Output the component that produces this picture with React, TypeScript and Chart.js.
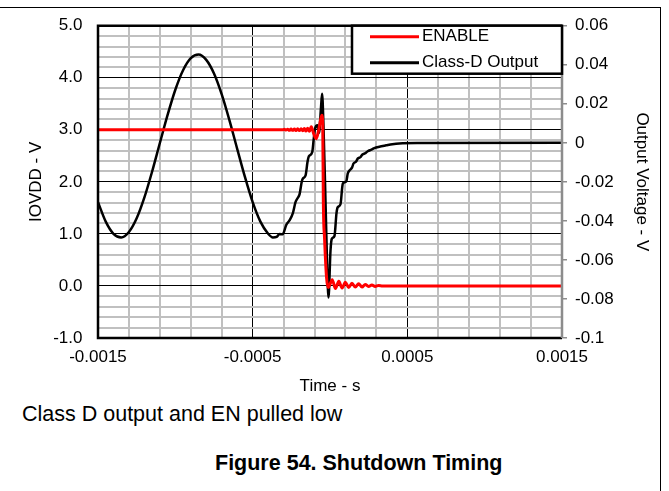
import React, { useEffect, useRef } from 'react';
import { Chart, registerables } from 'chart.js';

Chart.register(...registerables);

const FONT = "'Liberation Sans', Arial, Helvetica, sans-serif";

const seriesNames = ['ENABLE', 'Class-D Output'];
const seriesColors = ['#ff0000', '#000000'];

// ENABLE (left axis, V)
const enableTime = [
  -0.0015, -0.000306, -0.000295, -0.000284, -0.000274, -0.000263, -0.000252, -0.000241,
  -0.00023, -0.00022, -0.000209, -0.000198, -0.000187, -0.000176, -0.000166, -0.000155,
  -0.000144, -0.000133, -0.000121, -0.000105, -0.000089, -0.000073, -0.000053, -0.000047,
  -0.000043, -0.000035, -0.000022, -0.000012, -0.000002, 0.0000142, 0.0000355, 0.0000568,
  0.000078, 0.0000994, 0.000121, 0.000142, 0.000164, 0.000185, 0.000207, 0.000228,
  0.000249, 0.000271, 0.000292, 0.000314, 0.000339, 0.0015,
];
const enableValue = [
  3.0, 3.0, 3.01, 2.995, 3.01, 2.99, 3.015, 2.99,
  3.015, 2.985, 3.02, 2.985, 3.02, 2.98, 3.025, 2.975,
  3.03, 2.97, 3.06, 2.92, 2.83, 3.0, 3.28, 3.1,
  1.6, 0.9, 0.15, -0.03, 0.02, 0.12, -0.05, 0.09,
  -0.04, 0.07, -0.03, 0.05, -0.02, 0.04, -0.02, 0.03,
  -0.01, 0.02, -0.01, 0.01, 0, 0,
];

// Class-D Output (right axis, V)
const outputTime = [
  -0.0015, -0.00145, -0.0014, -0.00135, -0.0013, -0.00125, -0.0012, -0.00115,
  -0.0011, -0.00105, -0.001, -0.00095, -0.0009, -0.00085, -0.0008, -0.00075,
  -0.0007, -0.00065, -0.0006, -0.00055, -0.0005, -0.00045, -0.0004, -0.000369,
  -0.000345, -0.000326, -0.000306, -0.000283, -0.000261, -0.00024, -0.000223, -0.00021,
  -0.000197, -0.000182, -0.000174, -0.000158, -0.000145, -0.000137, -0.000115, -0.000105,
  -0.000097, -0.000081, -0.000071, -0.000058, -0.000051, -0.000042, -0.000029, -0.000019,
  -0.0000097, 0.0000032, 0.0000116, 0.000029, 0.000042, 0.00005, 0.000068, 0.000079,
  0.000083, 0.000105, 0.000115, 0.000126, 0.000143, 0.000152, 0.000169, 0.000179,
  0.000197, 0.00021, 0.000229, 0.000244, 0.000268, 0.000287, 0.000319, 0.000363,
  0.000403, 0.000448, 0.000577, 0.0015,
];
const outputValue = [
  -0.0304, -0.0404, -0.0466, -0.0485, -0.0457, -0.0387, -0.028, -0.0147,
  -0.0001, 0.0143, 0.0272, 0.0372, 0.0434, 0.0453, 0.0425, 0.0355,
  0.0248, 0.0115, -0.0031, -0.0175, -0.0304, -0.0404, -0.0466, -0.0485,
  -0.0482, -0.0467, -0.0469, -0.0421, -0.0396, -0.036, -0.0304, -0.0284,
  -0.0264, -0.0197, -0.0182, -0.0167, -0.0096, -0.007, -0.0048, 0.0021,
  0.0072, 0.009, 0.0051, 0.0184, 0.0251, 0.0082, -0.0299, -0.0614,
  -0.0792, -0.0553, -0.0492, -0.0477, -0.036, -0.033, -0.0314, -0.0228,
  -0.0208, -0.0198, -0.0157, -0.0142, -0.0126, -0.0106, -0.0096, -0.0081,
  -0.0073, -0.006, -0.0053, -0.0043, -0.0035, -0.0027, -0.002, -0.0013,
  -0.0007, -0.0003, -0.0001, 0,
];

// Axes
const xGridValues = [
  -0.0015, -0.0013, -0.0011, -0.0009, -0.0007, -0.0005, -0.0003, -0.0001,
  0.0001, 0.0003, 0.0005, 0.0007, 0.0009, 0.0011, 0.0013, 0.0015,
];
const xLabelValues = [-0.0015, -0.0005, 0.0005, 0.0015];
const xLabels = ['-0.0015', '-0.0005', '0.0005', '0.0015'];
const yLabelValues = [-1, 0, 1, 2, 3, 4, 5];
const yLabels = ['-1.0', '0.0', '1.0', '2.0', '3.0', '4.0', '5.0'];
const y2TickValues = [-0.1, -0.08, -0.06, -0.04, -0.02, 0, 0.02, 0.04, 0.06];
const y2Labels = ['-0.1', '-0.08', '-0.06', '-0.04', '-0.02', '0', '0.02', '0.04', '0.06'];

const GRID_GRAY = '#c0c0c0';

const findIndex = (arr: number[], v: number) => arr.findIndex((a) => Math.abs(a - v) < 1e-9);

const frameLegendPlugin = {
  id: 'frameLegend',
  afterDatasetsDraw(chart: any) {
    const { ctx, chartArea: a } = chart;
    ctx.save();
    ctx.lineWidth = 2.5;
    ctx.strokeStyle = '#000';
    ctx.beginPath();
    ctx.moveTo(a.right, a.top);
    ctx.lineTo(a.left, a.top);
    ctx.lineTo(a.left, a.bottom);
    ctx.lineTo(a.right, a.bottom);
    ctx.stroke();
    ctx.strokeStyle = '#8c8c8c';
    ctx.beginPath();
    ctx.moveTo(a.right, a.top);
    ctx.lineTo(a.right, a.bottom);
    ctx.stroke();

    const bw = 210;
    const bh = 48;
    const bx = a.right - bw;
    const by = a.top;
    ctx.fillStyle = '#fff';
    ctx.fillRect(bx, by, bw, bh);
    ctx.strokeStyle = '#000';
    ctx.lineWidth = 2.5;
    ctx.strokeRect(bx, by, bw, bh);
    chart.data.datasets.forEach((ds: any, i: number) => {
      const y = by + 11 + i * 26;
      ctx.strokeStyle = ds.borderColor;
      ctx.lineWidth = 3;
      ctx.beginPath();
      ctx.moveTo(bx + 18, y);
      ctx.lineTo(bx + 67, y);
      ctx.stroke();
      ctx.fillStyle = '#000';
      ctx.font = `17px ${FONT}`;
      ctx.textBaseline = 'middle';
      ctx.textAlign = 'left';
      ctx.fillText(ds.label, bx + 70, y);
    });
    ctx.restore();
  },
};

export default function App() {
  const ref = useRef<HTMLCanvasElement | null>(null);

  useEffect(() => {
    if (!ref.current) return;
    Chart.defaults.font.family = FONT;
    Chart.defaults.font.size = 17;
    Chart.defaults.color = '#000';

    const chart = new Chart(ref.current, {
      type: 'line',
      data: {
        datasets: [
          {
            label: seriesNames[0],
            data: enableTime.map((t, i) => ({ x: t, y: enableValue[i] })),
            borderColor: seriesColors[0],
            backgroundColor: seriesColors[0],
            borderWidth: 3,
            pointRadius: 0,
            cubicInterpolationMode: 'monotone',
            yAxisID: 'y',
          },
          {
            label: seriesNames[1],
            data: outputTime.map((t, i) => ({ x: t, y: outputValue[i] })),
            borderColor: seriesColors[1],
            backgroundColor: seriesColors[1],
            borderWidth: 2.5,
            pointRadius: 0,
            cubicInterpolationMode: 'monotone',
            yAxisID: 'y2',
          },
        ],
      },
      options: {
        animation: false,
        responsive: false,
        devicePixelRatio: 1,
        layout: { padding: { top: 23, left: 0, right: 0, bottom: 0 } },
        plugins: {
          legend: { display: false },
          tooltip: { enabled: false },
        },
        scales: {
          x: {
            type: 'linear',
            min: -0.0015,
            max: 0.0015,
            afterBuildTicks: (s: any) => {
              s.ticks = xGridValues.map((value) => ({ value }));
            },
            afterFit: (s: any) => {
              s.height = 62;
            },
            ticks: {
              autoSkip: false,
              maxRotation: 0,
              padding: 9.5,
              font: { size: 17 },
              callback: (v: any) => {
                const k = findIndex(xLabelValues, Number(v));
                return k >= 0 ? xLabels[k] : '';
              },
            },
            grid: {
              drawTicks: false,
              color: (c: any) => (c.tick && findIndex([-0.0005, 0.0005], c.tick.value) >= 0 ? '#000' : GRID_GRAY),
              lineWidth: (c: any) => (c.tick && findIndex([-0.0005, 0.0005], c.tick.value) >= 0 ? 1 : 2),
            },
            border: { display: false },
            title: {
              display: true,
              text: 'Time - s',
              font: { size: 17 },
              padding: { top: 0, bottom: 3 },
            },
          },
          y: {
            type: 'linear',
            position: 'left',
            min: -1,
            max: 5,
            ticks: {
              stepSize: 0.2,
              autoSkip: false,
              padding: 15.5,
              font: { size: 17 },
              callback: (v: any) => {
                const k = findIndex(yLabelValues, Number(v));
                return k >= 0 ? yLabels[k] : '';
              },
            },
            afterFit: (s: any) => {
              s.width = 98;
            },
            grid: {
              drawTicks: false,
              color: (c: any) => (c.tick && findIndex(yLabelValues, c.tick.value) >= 0 ? '#000' : GRID_GRAY),
              lineWidth: (c: any) => (c.tick && findIndex(yLabelValues, c.tick.value) >= 0 ? 1 : 2),
            },
            border: { display: false },
            title: {
              display: true,
              text: 'IOVDD - V',
              font: { size: 17 },
              padding: { top: 26, bottom: 0 },
            },
          },
          y2: {
            type: 'linear',
            position: 'right',
            min: -0.1,
            max: 0.06,
            afterBuildTicks: (s: any) => {
              s.ticks = y2TickValues.map((value) => ({ value }));
            },
            afterFit: (s: any) => {
              s.width = 107;
            },
            ticks: {
              autoSkip: false,
              padding: 8,
              font: { size: 17 },
              callback: (v: any) => {
                const k = findIndex(y2TickValues, Number(v));
                return k >= 0 ? y2Labels[k] : '';
              },
            },
            grid: {
              drawOnChartArea: false,
              drawTicks: true,
              tickLength: 5,
              color: '#8c8c8c',
              lineWidth: 1.5,
            },
            border: { display: false },
            title: {
              display: true,
              text: 'Output Voltage - V',
              font: { size: 17 },
              padding: { top: 17, bottom: 0 },
            },
          },
        },
      },
      plugins: [frameLegendPlugin],
    } as any);

    return () => chart.destroy();
  }, []);

  return (
    <div
      style={{
        position: 'absolute',
        left: 0,
        top: 0,
        width: 669,
        height: 491,
        background: '#fff',
        overflow: 'hidden',
      }}
    >
      <div
        style={{
          position: 'absolute',
          left: 0,
          top: 7,
          width: 660,
          height: 484,
          borderTop: '1px solid #000',
          borderRight: '1px solid #000',
          boxSizing: 'content-box',
        }}
      />
      <canvas
        ref={ref}
        width={669}
        height={400}
        style={{ position: 'absolute', left: 0, top: 0, width: 669, height: 400 }}
      />
      <div
        style={{
          position: 'absolute',
          left: 22,
          top: 404,
          font: `21.5px ${FONT}`,
          lineHeight: '21.5px',
          whiteSpace: 'nowrap',
          color: '#000',
        }}
      >
        Class D output and EN pulled low
      </div>
      <div
        style={{
          position: 'absolute',
          left: 215,
          top: 453,
          font: `bold 21.5px ${FONT}`,
          lineHeight: '21.5px',
          whiteSpace: 'nowrap',
          color: '#000',
        }}
      >
        Figure 54. Shutdown Timing
      </div>
    </div>
  );
}
